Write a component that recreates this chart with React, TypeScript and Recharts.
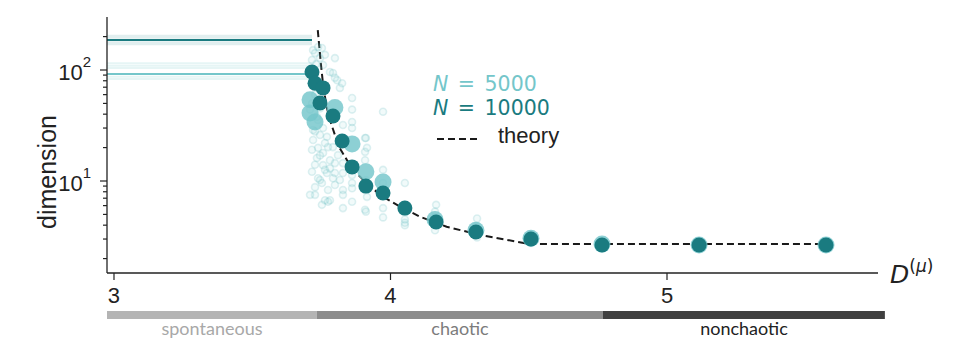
import React from 'react';
import { ComposedChart, Scatter, Line, XAxis, YAxis, ReferenceLine, ReferenceArea } from 'recharts';

// ---- data ----
const X_DOMAIN: [number, number] = [2.9747, 5.7631];
const Y_DOMAIN: [number, number] = [1.483, 300.3];
const X_TICKS = [3, 4, 5];
const Y_MAJOR = [10, 100];
const Y_MINOR = [2, 3, 4, 5, 6, 7, 8, 9, 20, 30, 40, 50, 60, 70, 80, 90, 200];

// N = 10000 mean dimension
const n10000X = [3.716, 3.727, 3.756, 3.745, 3.792, 3.825, 3.861, 3.911, 3.973, 4.052, 4.165, 4.309, 4.508, 4.765, 5.116, 5.575];
const n10000Y = [96, 76, 69, 50.5, 38.5, 22.9, 13.4, 9.0, 7.8, 5.7, 4.27, 3.47, 3.0, 2.65, 2.65, 2.65];

// N = 5000 mean dimension
const n5000X = [3.709, 3.709, 3.727, 3.799, 3.861, 3.911, 3.973, 4.161, 4.309, 4.508, 4.765, 5.116, 5.575];
const n5000Y = [54, 41, 34, 46, 21.6, 12.1, 9.8, 4.5, 3.6, 3.05, 2.7, 2.65, 2.65];

// individual realisations (faint rings)
const singles: [number, number][] = [
  [3.720, 151], [3.727, 142], [3.738, 161], [3.752, 158], [3.763, 137], [3.745, 128], [3.716, 123], [3.731, 113],
  [3.756, 111], [3.799, 128], [3.781, 96], [3.792, 94], [3.807, 81], [3.799, 85], [3.825, 76], [3.817, 69],
  [3.861, 56], [3.861, 44], [3.973, 42], [3.828, 32], [3.861, 34], [3.861, 30], [3.911, 24.4], [3.915, 19.9],
  [3.720, 23.4], [3.716, 19.1], [3.734, 16.1], [3.756, 13.9], [3.727, 8.8], [3.752, 9.6], [3.763, 6.7], [3.781, 6.7],
  [3.828, 8.3], [3.828, 7.5], [3.861, 9.6], [3.861, 8.6], [3.861, 6.5], [3.828, 5.7], [3.908, 24.4], [3.908, 18.3],
  [3.908, 15.4], [3.915, 7.2], [3.908, 5.5], [3.973, 12.6], [3.973, 5.7], [3.973, 4.7], [4.052, 9.6], [4.052, 4.5],
  [4.052, 4.0], [3.792, 20.2], [3.799, 14.5], [3.799, 11.8], [3.770, 11.8], [3.756, 17.9], [3.828, 14.5], [3.828, 11.8],
  [3.861, 11.3], [3.774, 20.2], [3.774, 6.5], [3.911, 5.3], [4.165, 6.1], [4.161, 5.3], [4.161, 3.6], [4.313, 4.6],
  [4.313, 3.1], [4.052, 4.2], [4.309, 3.9], [4.508, 3.3], [4.508, 2.76], [3.720, 28.8], [3.738, 35.5], [3.709, 44],
  [3.745, 26], [3.716, 12.1], [3.738, 10.6], [3.774, 8.3], [3.799, 9.2], [3.817, 10.2], [3.727, 7.5], [3.752, 6.1],
  [3.709, 7.5], [3.781, 15.4], [3.810, 17.1], [3.738, 19.9], [3.911, 10.2], [3.911, 8.6], [3.973, 9.6], [3.973, 8.3],
  [4.052, 6.1], [4.052, 5.3], [4.161, 4.7], [4.161, 4.0], [4.313, 3.3], [4.313, 3.6], [4.508, 3.1], [4.765, 2.76],
  [4.765, 2.6], [3.727, 60], [3.716, 50], [3.745, 45], [3.734, 38], [3.756, 30], [3.770, 25], [3.727, 28],
  [3.763, 22], [3.745, 17], [3.727, 14], [3.763, 12.6], [3.745, 10.2], [3.781, 13], [3.792, 10.6],
];

// theory curve
const theoryX = [3.737, 3.748, 3.757, 3.769, 3.781, 3.799, 3.817, 3.842, 3.878, 3.926, 3.974, 4.034, 4.107, 4.203, 4.324, 4.505, 5.575];
const theoryY = [229, 115, 70.8, 46.7, 35.5, 26, 19.7, 15.5, 11.7, 8.9, 7.2, 5.9, 4.76, 3.87, 3.27, 2.70, 2.70];

// spontaneous-regime dimension lines
const SPONT_END = 3.716;
const spont10000Main = 186;
const spont10000Band = [204, 195, 178, 171];
const spont5000Main = 92;
const spont5000Band = [115, 109, 104, 87, 83];

// regimes
const regimes = [
  { name: 'spontaneous', from: 2.9747, to: 3.734, fill: '#b4b4b4', text: '#a8a8a8' },
  { name: 'chaotic', from: 3.734, to: 4.7685, fill: '#8c8c8c', text: '#7c7c7c' },
  { name: 'nonchaotic', from: 4.7685, to: 5.788, fill: '#404040', text: '#222222' },
];
const REGIME_BAR_Y: [number, number] = [0.571, 0.674];

// ---- styling ----
const DARK = '#1a7b80';
const LIGHT = '#74c6ca';
const AXIS = '#222';
const FONT = '"Liberation Sans", Arial, sans-serif';

const toPts = (xs: number[], ys: number[]) => xs.map((x, i) => ({ x, y: ys[i] }));
const dark = toPts(n10000X, n10000Y);
const light = toPts(n5000X, n5000Y);
const rings = singles.map(([x, y]) => ({ x, y }));
const theory = toPts(theoryX, theoryY);

const YTick = (props: any) => {
  const { x, y, payload } = props;
  const v = payload.value;
  const major = Y_MAJOR.includes(v);
  return (
    <g>
      <line x1={x} x2={x - (major ? 7 : 4)} y1={y} y2={y} stroke={AXIS} strokeWidth={1.2} />
      {major && (
        <text x={x - 16} y={y + 10} textAnchor="end" fontFamily={FONT} fontSize={22} fill={AXIS}>
          10
          <tspan dy={-13} fontSize={15}>{String(Math.round(Math.log10(v)))}</tspan>
        </text>
      )}
    </g>
  );
};

export default function App() {
  const W = 940;
  const H = 342;
  return (
    <div style={{ position: 'relative', width: W, height: H }}>
      <ComposedChart width={W} height={H} margin={{ top: 9, right: 70, bottom: 47, left: 39 }}>
        <XAxis
          type="number"
          dataKey="x"
          domain={X_DOMAIN}
          allowDataOverflow
          ticks={X_TICKS}
          tickSize={7}
          tickMargin={7}
          height={30}
          axisLine={{ stroke: AXIS, strokeWidth: 1.3 }}
          tickLine={{ stroke: AXIS, strokeWidth: 1.2 }}
          tick={{ fontFamily: FONT, fontSize: 22, fill: AXIS }}
        />
        <YAxis
          type="number"
          dataKey="y"
          scale="log"
          domain={Y_DOMAIN}
          allowDataOverflow
          ticks={[...Y_MINOR, ...Y_MAJOR]}
          interval={0}
          width={60}
          tickSize={0}
          tickMargin={0}
          tickLine={false}
          axisLine={{ stroke: AXIS, strokeWidth: 1.3 }}
          tick={<YTick />}
        />
        {regimes.map((r) => (
          <ReferenceArea
            key={r.name}
            x1={r.from}
            x2={r.to}
            y1={REGIME_BAR_Y[0]}
            y2={REGIME_BAR_Y[1]}
            fill={r.fill}
            fillOpacity={1}
            stroke="none"
            ifOverflow="visible"
            label={{
              value: r.name,
              position: 'bottom',
              offset: 3,
              fill: r.text,
              fontSize: 18,
              fontFamily: 'Lato, "Open Sans", sans-serif',
            }}
          />
        ))}
        {spont5000Band.map((v) => (
          <ReferenceLine key={'b5' + v} segment={[{ x: X_DOMAIN[0], y: v }, { x: SPONT_END, y: v }]} stroke={LIGHT} strokeOpacity={0.18} strokeWidth={2} ifOverflow="visible" />
        ))}
        <ReferenceLine segment={[{ x: X_DOMAIN[0], y: spont5000Main }, { x: SPONT_END, y: spont5000Main }]} stroke={LIGHT} strokeWidth={2} ifOverflow="visible" />
        {spont10000Band.map((v) => (
          <ReferenceLine key={'b10' + v} segment={[{ x: X_DOMAIN[0], y: v }, { x: SPONT_END, y: v }]} stroke={DARK} strokeOpacity={0.13} strokeWidth={2} ifOverflow="visible" />
        ))}
        <ReferenceLine segment={[{ x: X_DOMAIN[0], y: spont10000Main }, { x: SPONT_END, y: spont10000Main }]} stroke={DARK} strokeWidth={2} ifOverflow="visible" />
        <Scatter
          data={rings}
          isAnimationActive={false}
          shape={(p: any) => (
            <circle cx={p.cx} cy={p.cy} r={3.5} fill="#8fd3d6" fillOpacity={0.12} stroke="#5fb8bd" strokeOpacity={0.2} strokeWidth={1.6} />
          )}
        />
        <Scatter
          data={light}
          isAnimationActive={false}
          shape={(p: any) => <circle cx={p.cx} cy={p.cy} r={8.5} fill={LIGHT} fillOpacity={0.82} />}
        />
        <Scatter
          data={dark}
          isAnimationActive={false}
          shape={(p: any) => <circle cx={p.cx} cy={p.cy} r={7.5} fill={DARK} />}
        />
        <Line
          data={theory}
          dataKey="y"
          type="linear"
          dot={false}
          stroke="#1a1a1a"
          strokeWidth={2}
          strokeDasharray="7 4"
          isAnimationActive={false}
        />
      </ComposedChart>
      <svg width={W} height={H} style={{ position: 'absolute', left: 0, top: 0, pointerEvents: 'none' }}>
        <text x={39} y={164} transform="rotate(-90 39 164)" textAnchor="middle" dominantBaseline="central" fontFamily={FONT} fontSize={25} fill={AXIS}>
          dimension
        </text>
        <text x={882} y={275} fontFamily="'DejaVu Sans', sans-serif" fontSize={25} fontStyle="italic" fill={AXIS}>
          D<tspan dy={-11} fontSize={17} fontStyle="normal">(</tspan><tspan fontSize={17} fontStyle="italic">μ</tspan><tspan fontSize={17} fontStyle="normal">)</tspan>
        </text>
        <text x={425} y={83} fontFamily="'DejaVu Sans', sans-serif" fontSize={20.5} wordSpacing={3} fill={LIGHT}>
          <tspan fontStyle="italic">N</tspan> = 5000
        </text>
        <text x={425} y={107} fontFamily="'DejaVu Sans', sans-serif" fontSize={20.5} wordSpacing={3} fill={DARK}>
          <tspan fontStyle="italic">N</tspan> = 10000
        </text>
        <line x1={429} x2={472} y1={131} y2={131} stroke="#1a1a1a" strokeWidth={2} strokeDasharray="7 4" />
        <text x={490} y={135} fontFamily={FONT} fontSize={22} fill={AXIS}>
          theory
        </text>
      </svg>
    </div>
  );
}
